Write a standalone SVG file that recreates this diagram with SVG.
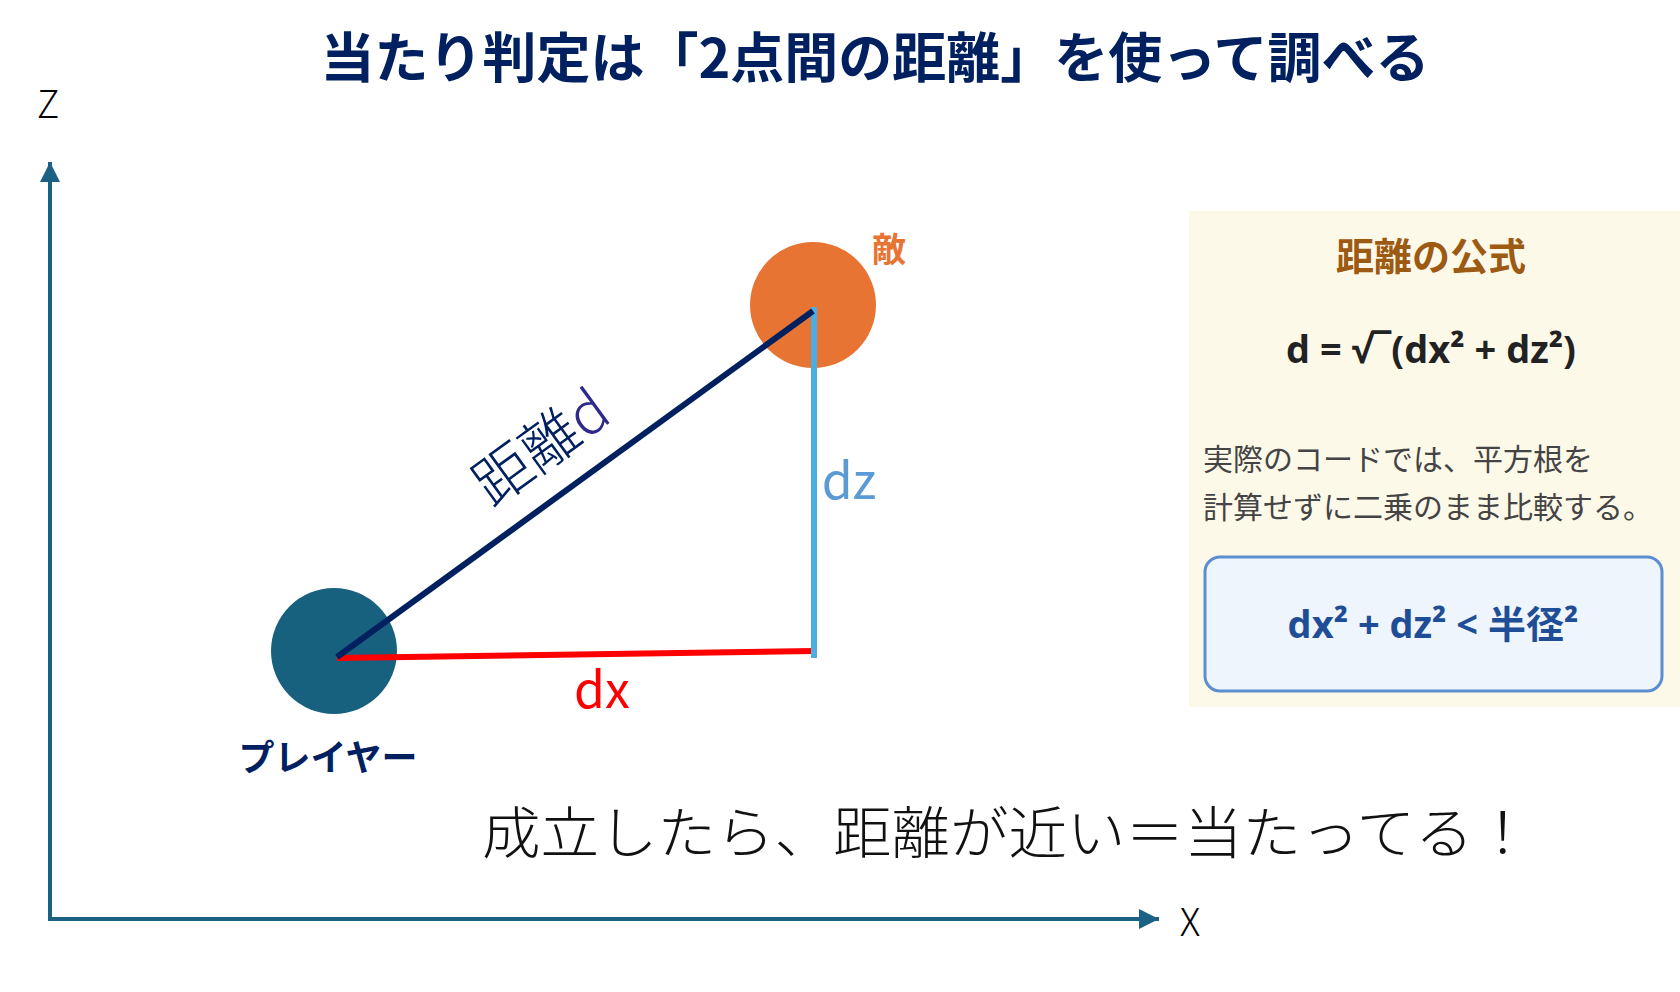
<svg xmlns="http://www.w3.org/2000/svg" width="1680" height="992" viewBox="0 0 1680 992">
<style>
.jp{font-family:"Noto Sans CJK JP","Noto Sans",sans-serif}
.title{font-size:54px;font-weight:700;fill:#002060}
.axislabel{font-size:38px;font-weight:300;fill:#000}
.nodelabel{font-size:34px;font-weight:700}
.seg{font-size:50px;font-weight:400}
.note{font-size:30px;fill:#444}
.formula{font-family:"Open Sans","Noto Sans",sans-serif;font-weight:700}
</style>
<defs>
<marker id="arr" viewBox="0 0 10 10" refX="10" refY="5" markerWidth="5.5" markerHeight="5" orient="auto" markerUnits="strokeWidth">
<path d="M0,0 L10,5 L0,10 z" fill="#1B6184"/>
</marker>
</defs>
<rect width="1680" height="992" fill="#fff"/>
<text class="jp title" x="875" y="78" text-anchor="middle">当たり判定は「2点間の距離」を使って調べる</text>

<g id="axes">
<line x1="50" y1="919" x2="50" y2="162" stroke="#1B6184" stroke-width="4" marker-end="url(#arr)"/>
<line x1="48" y1="919" x2="1159" y2="919" stroke="#1B6184" stroke-width="4" marker-end="url(#arr)"/>
<text class="jp axislabel" x="48" y="118" text-anchor="middle">Z</text>
<text class="jp axislabel" x="1190" y="936" text-anchor="middle">X</text>
</g>

<g id="player">
<circle cx="334" cy="651" r="63" fill="#17607E"/>
<text class="jp nodelabel" x="328" y="771" style="font-size:36px" text-anchor="middle" fill="#002060">プレイヤー</text>
</g>
<g id="enemy">
<circle cx="813" cy="305" r="63" fill="#E87434"/>
<text class="jp nodelabel" x="889" y="262" text-anchor="middle" fill="#E87434">敵</text>
</g>

<g id="connectors">
<line x1="337" y1="658" x2="814" y2="651" stroke="#FF0000" stroke-width="6"/>
<line x1="814" y1="307" x2="814" y2="658" stroke="#4BAEE3" stroke-width="6"/>
<line x1="337" y1="657" x2="813" y2="311" stroke="#002060" stroke-width="6"/>
</g>

<g id="labels">
<text class="jp seg" x="602" y="708" text-anchor="middle" fill="#FF0000">dx</text>
<text class="jp seg" x="849" y="499" text-anchor="middle" fill="#5B9BD5">dz</text>
<text class="jp" font-size="58" font-weight="300" fill="#002060" text-anchor="middle" transform="translate(553,464) rotate(-36)">距離<tspan fill="#2E2A8A">d</tspan></text>
</g>

<text class="jp" x="482" y="853" font-size="56" font-weight="300" fill="#111" textLength="1050" lengthAdjust="spacingAndGlyphs">成立したら、距離が近い＝当たってる！</text>

<g id="formula-panel">
<rect x="1189" y="211" width="491" height="496" fill="#FDF9E9"/>
<text class="jp" x="1431" y="270" font-size="38" font-weight="700" fill="#9C5A12" text-anchor="middle">距離の公式</text>
<text class="formula" x="1431" y="363" font-size="38" fill="#222" text-anchor="middle">d = √‾(dx² + dz²)</text>
<text class="jp note" x="1203" y="470">実際のコードでは、平方根を</text>
<text class="jp note" x="1203" y="518">計算せずに二乗のまま比較する。</text>
<rect x="1205" y="557" width="457" height="134" rx="15" fill="#EEF5FD" stroke="#5B8FD0" stroke-width="3"/>
<text class="formula" x="1433" y="638" font-size="38" fill="#1F4E96" text-anchor="middle">dx² + dz² &lt; <tspan class="jp">半径</tspan>²</text>
</g>
</svg>
